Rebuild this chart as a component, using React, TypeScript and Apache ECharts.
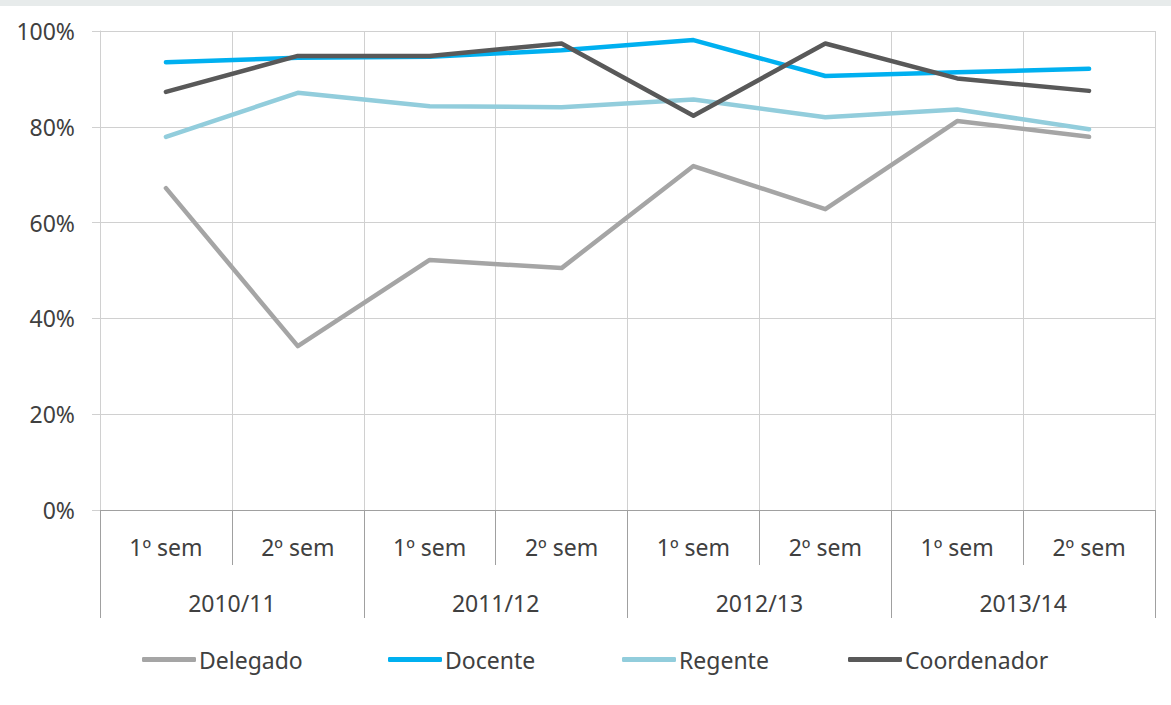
import React, { useEffect, useRef } from "react";
import * as echarts from "echarts";

const semesters = ["1º sem", "2º sem", "1º sem", "2º sem", "1º sem", "2º sem", "1º sem", "2º sem"];
const years = ["2010/11", "2011/12", "2012/13", "2013/14"];
const yTicks = [0, 20, 40, 60, 80, 100];

const delegado = [67.2, 34.2, 52.2, 50.5, 71.8, 62.8, 81.2, 77.9];
const docente = [93.5, 94.4, 94.6, 96.0, 98.1, 90.6, 91.4, 92.1];
const regente = [77.9, 87.1, 84.3, 84.1, 85.7, 82.0, 83.6, 79.5];
const coordenador = [87.3, 94.8, 94.8, 97.4, 82.3, 97.4, 90.1, 87.5];

const seriesNames = ["Delegado", "Docente", "Regente", "Coordenador"];
const seriesColors = ["#a5a5a5", "#00b0f0", "#92cddc", "#595959"];
const seriesValues = [delegado, docente, regente, coordenador];
const legendLefts = [137, 383, 617, 843];

const FONT = "Noto Sans";
const FS = 23;

export default function App() {
  const ref = useRef<HTMLDivElement>(null);
  useEffect(() => {
    if (!ref.current) return;
    const chart = echarts.init(ref.current, undefined, { renderer: "svg" });
    chart.setOption({
      animation: false,
      backgroundColor: "#ffffff",
      textStyle: { fontFamily: FONT },
      graphic: [
        { type: "rect", left: 0, top: 0, shape: { width: 1171, height: 6 }, style: { fill: "#e7ebeb" } },
      ],
      grid: { left: 100, right: 16, top: 31, bottom: 195, containLabel: false },
      legend: seriesNames.map((n, i) => ({
        data: [{ name: n, icon: "roundRect" }],
        left: legendLefts[i],
        top: 643,
        itemWidth: 54,
        itemHeight: 5,
        itemGap: 0,
        itemStyle: { color: seriesColors[i], borderWidth: 0 },
        lineStyle: { width: 0 },
        textStyle: { fontFamily: FONT, fontSize: FS, color: "#404040", padding: [0, 0, 0, -2] },
      })),
      xAxis: [
        {
          type: "category",
          data: semesters,
          position: "bottom",
          boundaryGap: true,
          axisLine: { show: true, lineStyle: { color: "#a0a0a0", width: 1 } },
          axisTick: { show: true, interval: 0, length: 55, lineStyle: { color: "#a0a0a0" } },
          axisLabel: { interval: 0, margin: 25, fontSize: FS, color: "#404040", fontFamily: FONT },
          splitLine: { show: true, interval: 0, lineStyle: { color: "#d0d0d0" } },
        },
        {
          type: "category",
          data: years,
          position: "bottom",
          offset: 0,
          boundaryGap: true,
          axisLine: { show: false },
          axisTick: { show: true, interval: 0, length: 108, lineStyle: { color: "#a0a0a0" } },
          axisLabel: { interval: 0, margin: 81, fontSize: FS, color: "#404040", fontFamily: FONT },
          splitLine: { show: false },
        },
      ],
      yAxis: {
        type: "value",
        min: yTicks[0],
        max: yTicks[yTicks.length - 1],
        interval: 20,
        axisLine: { show: true, lineStyle: { color: "#d0d0d0" } },
        axisTick: { show: true, length: 8, lineStyle: { color: "#d0d0d0" } },
        axisLabel: { formatter: "{value}%", margin: 25, fontSize: FS, color: "#404040", fontFamily: FONT },
        splitLine: { show: true, lineStyle: { color: "#d0d0d0" } },
      },
      series: seriesNames.map((n, i) => ({
        name: n,
        type: "line",
        xAxisIndex: 0,
        data: seriesValues[i],
        showSymbol: false,
        symbol: "none",
        lineStyle: { color: seriesColors[i], width: 4.5, cap: "round", join: "round" },
        itemStyle: { color: seriesColors[i] },
      })),
    });
    return () => chart.dispose();
  }, []);
  return (
    <div
      ref={ref}
      style={{ position: "fixed", left: 0, top: 0, width: 1171, height: 705 }}
    />
  );
}
